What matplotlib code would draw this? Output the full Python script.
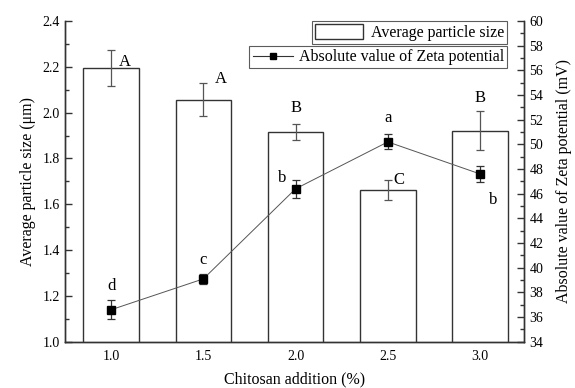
import numpy as np
import matplotlib
matplotlib.use('Agg')
from matplotlib import pyplot as plt
from matplotlib.lines import Line2D
from matplotlib.patches import Patch
from matplotlib.ticker import MultipleLocator, FormatStrFormatter

plt.rcParams['font.family'] = ['Liberation Serif', 'DejaVu Serif']

# data
categories = ['1.0', '1.5', '2.0', '2.5', '3.0']
size_mean = [2.195, 2.057, 1.917, 1.662, 1.922]
size_err = [0.080, 0.073, 0.035, 0.042, 0.083]
size_letters = ['A', 'A', 'B', 'C', 'B']
zeta_mean = [36.6, 39.1, 46.4, 50.2, 47.6]
zeta_err = [0.75, 0.40, 0.75, 0.60, 0.65]
zeta_letters = ['d', 'c', 'b', 'a', 'b']

x = np.arange(len(categories))

fig = plt.figure(figsize=(5.75, 3.88), dpi=100)
ax = fig.add_axes([0.113, 0.119, 0.799, 0.827])
ax2 = ax.twinx()

# bars: particle size
ax.bar(x, size_mean, width=0.6, color='white', edgecolor='#333333',
       linewidth=1.0, zorder=2)
ax.errorbar(x, size_mean, yerr=size_err, fmt='none', ecolor='#555555',
            elinewidth=0.9, capsize=3, capthick=0.9, zorder=3)

# line: zeta potential
ax2.errorbar(x, zeta_mean, yerr=zeta_err, fmt='none', ecolor='#333333',
             elinewidth=0.9, capsize=3, capthick=0.9, zorder=3)
ax2.plot(x, zeta_mean, color='#555555', linewidth=0.7, marker='s',
         markersize=6, markerfacecolor='black', markeredgecolor='black', zorder=4)

# significance letters for bars (offset from the top of the error bar)
size_off = [(0.15, -0.055), (0.185, 0.017), (0.0, 0.068), (0.12, 0.0), (0.0, 0.059)]
for i, lab in enumerate(size_letters):
    dx, dy = size_off[i]
    ax.text(x[i] + dx, size_mean[i] + size_err[i] + dy, lab, fontsize=12,
            ha='center', va='center', zorder=5)

# significance letters for zeta (offset from the point)
zeta_off = [(0.0, 1.95), (0.0, 1.55), (-0.15, 0.9), (0.0, 1.95), (0.14, -2.1)]
for i, lab in enumerate(zeta_letters):
    dx, dy = zeta_off[i]
    ax2.text(x[i] + dx, zeta_mean[i] + dy, lab, fontsize=12,
             ha='center', va='center', zorder=5)

ax.set_xlim(-0.5, 4.48)
ax.set_ylim(1.0, 2.4)
ax2.set_ylim(34, 60)
ax.set_xticks(x)
ax.set_xticklabels(categories)
ax.yaxis.set_major_locator(MultipleLocator(0.2))
ax.yaxis.set_minor_locator(MultipleLocator(0.1))
ax2.yaxis.set_major_locator(MultipleLocator(2))
ax2.yaxis.set_minor_locator(MultipleLocator(1))
ax.yaxis.set_major_formatter(FormatStrFormatter('%.1f'))

for a in (ax, ax2):
    a.spines['top'].set_visible(False)
    for s in a.spines.values():
        s.set_linewidth(1.0)
        s.set_color('#333333')
    a.tick_params(which='both', direction='in', colors='#333333',
                  labelsize=10, labelcolor='black')
    a.tick_params(which='major', length=5, width=1.0)
    a.tick_params(which='minor', length=3, width=1.0)
ax.tick_params(axis='x', which='major', length=5, pad=6)

ax.set_xlabel('Chitosan addition (%)', fontsize=11.5, labelpad=6)
ax.set_ylabel('Average particle size (μm)', fontsize=11.5, labelpad=5)
ax2.set_ylabel('Absolute value of Zeta potential (mV)', fontsize=11.5, labelpad=9)

# two separate legend boxes
bar_handle = Patch(facecolor='white', edgecolor='#333333', linewidth=1.0)
line_handle = Line2D([], [], color='#333333', linewidth=0.8, marker='s',
                     markersize=5, markerfacecolor='black', markeredgecolor='black')
leg1 = ax2.legend([bar_handle], ['Average particle size'], loc='upper right',
                  bbox_to_anchor=(0.963, 1.0), fontsize=11.5, frameon=True,
                  fancybox=False, edgecolor='#333333', borderpad=0.2,
                  handlelength=3.0, handleheight=1.1, handletextpad=0.5,
                  borderaxespad=0)
leg1.get_frame().set_linewidth(0.8)
ax2.add_artist(leg1)
leg2 = ax2.legend([line_handle], ['Absolute value of Zeta potential'], loc='upper right',
                  bbox_to_anchor=(0.963, 0.922), fontsize=11.5, frameon=True,
                  fancybox=False, edgecolor='#333333', borderpad=0.2,
                  handlelength=2.5, handletextpad=0.4, borderaxespad=0)
leg2.get_frame().set_linewidth(0.8)

fig.savefig('out.png', dpi=100)
